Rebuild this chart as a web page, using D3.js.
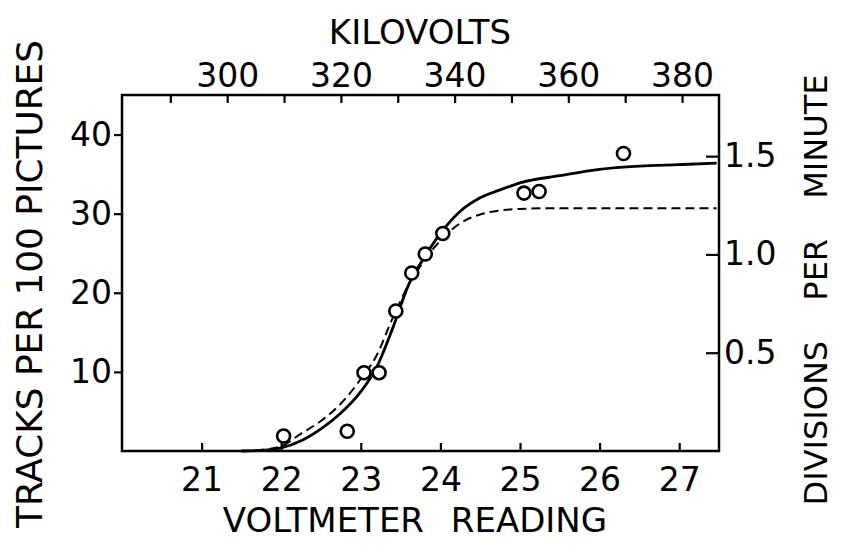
<!DOCTYPE html>
<html>
<head>
<meta charset="utf-8">
<script src="https://cdn.jsdelivr.net/npm/d3@7"></script>
<style>
  body { margin: 0; background: #fff; }
  svg { display: block; font-family: "DejaVu Sans", sans-serif; }
</style>
</head>
<body>
<svg id="plot" width="841" height="547"></svg>
<script>
// measured points (voltmeter reading, tracks per 100 pictures)
const pointX = [22.03, 22.83, 23.04, 23.23, 23.44, 23.64, 23.81, 24.03, 25.05, 25.24, 26.30]
const pointY = [1.9, 2.5, 9.9, 9.9, 17.7, 22.5, 24.9, 27.5, 32.6, 32.8, 37.6]

// solid curve
const solidX = [21.5, 21.8, 22.0, 22.25, 22.5, 22.75, 23.0, 23.2, 23.4, 23.6, 23.8, 24.0, 24.25, 24.5, 24.75, 25.0, 25.5, 26.0, 26.5, 27.0, 27.47]
const solidY = [0, 0.1, 0.4, 1.3, 2.8, 4.8, 7.5, 10.6, 15.5, 21.0, 24.5, 27.5, 30.3, 32.0, 33.0, 33.9, 34.8, 35.6, 36.0, 36.2, 36.4]

// dashed curve
const dashX = [21.5, 21.8, 22.0, 22.25, 22.5, 22.75, 23.0, 23.2, 23.4, 23.6, 23.8, 24.0, 24.25, 24.5, 24.75, 25.0, 25.5, 26.0, 27.47]
const dashY = [0, 0.2, 0.6, 2.2, 3.8, 6.0, 9.1, 12.1, 16.8, 21.0, 24.1, 26.6, 28.8, 29.9, 30.4, 30.6, 30.7, 30.7, 30.7]

const bottomTicks = [21, 22, 23, 24, 25, 26, 27]
const leftTicks = [10, 20, 30, 40]
const rightTicks = [0.5, 1.0, 1.5]
const topTicks = [290, 300, 310, 320, 330, 340, 350, 360, 370, 380]
const topLabels = [300, 320, 340, 360, 380]

const margin = ({ top: 95, right: 122, bottom: 96, left: 122 })
const width = 841
const height = 547

x = d3.scaleLinear()
    .domain([20, 27.5])
    .range([margin.left, width - margin.right])

kv = d3.scaleLinear()
    .domain([281.5, 386.5])
    .range([margin.left, width - margin.right])

y = d3.scaleLinear()
    .domain([0, 45])
    .range([height - margin.bottom, margin.top])

yRight = d3.scaleLinear()
    .domain([0, 1.811])
    .range([height - margin.bottom, margin.top])

const svg = d3.select("#plot");

svg.append("rect")
    .attr("width", width).attr("height", height).attr("fill", "#fff");

const styleAxis = g => g
    .call(g => g.select(".domain").remove())
    .call(g => g.selectAll(".tick line").attr("stroke", "#000").attr("stroke-width", 2.2))
    .call(g => g.selectAll(".tick text")
        .attr("font-family", "DejaVu Sans, sans-serif")
        .attr("font-size", 33)
        .attr("fill", "#000"))

svg.append("g")
    .attr("transform", `translate(0,${height - margin.bottom})`)
    .call(d3.axisBottom(x).tickValues(bottomTicks).tickSize(-8).tickPadding(17).tickFormat(d3.format("d")))
    .call(styleAxis)

svg.append("g")
    .attr("transform", `translate(0,${margin.top})`)
    .call(d3.axisTop(kv).tickValues(topTicks).tickSize(-8).tickPadding(8)
        .tickFormat(d => topLabels.includes(d) ? d : ""))
    .call(styleAxis)

svg.append("g")
    .attr("transform", `translate(${margin.left},0)`)
    .call(d3.axisLeft(y).tickValues(leftTicks).tickSize(8).tickPadding(2))
    .call(styleAxis)

svg.append("g")
    .attr("transform", `translate(${width - margin.right},0)`)
    .call(d3.axisRight(yRight).tickValues(rightTicks).tickSize(-13).tickPadding(5).tickFormat(d3.format(".1f")))
    .call(styleAxis)

// frame
svg.append("rect")
    .attr("x", margin.left)
    .attr("y", margin.top)
    .attr("width", width - margin.left - margin.right)
    .attr("height", height - margin.top - margin.bottom)
    .attr("fill", "none")
    .attr("stroke", "#000")
    .attr("stroke-width", 2.5)

line = d3.line()
    .x(d => x(d[0]))
    .y(d => y(d[1]))
    .curve(d3.curveMonotoneX)

svg.append("path")
    .datum(dashX.map((v, i) => [v, dashY[i]]))
    .attr("fill", "none")
    .attr("stroke", "#000")
    .attr("stroke-width", 2)
    .attr("stroke-dasharray", "9,5")
    .attr("d", line);

svg.append("path")
    .datum(solidX.map((v, i) => [v, solidY[i]]))
    .attr("fill", "none")
    .attr("stroke", "#000")
    .attr("stroke-width", 2.8)
    .attr("stroke-linejoin", "round")
    .attr("d", line);

svg.append("g")
    .selectAll("circle")
    .data(pointX.map((v, i) => [v, pointY[i]]))
    .join("circle")
    .attr("cx", d => x(d[0]))
    .attr("cy", d => y(d[1]))
    .attr("r", 6.5)
    .attr("fill", "#fff")
    .attr("stroke", "#000")
    .attr("stroke-width", 2.6)

// titles
svg.append("text")
    .attr("x", 420).attr("y", 44)
    .attr("text-anchor", "middle")
    .attr("font-size", 34)
    .text("KILOVOLTS")

svg.append("text")
    .attr("x", 415).attr("y", 532)
    .attr("text-anchor", "middle")
    .attr("font-size", 34)
    .attr("word-spacing", 16)
    .text("VOLTMETER READING")

svg.append("text")
    .attr("transform", "translate(42,284) rotate(-90)")
    .attr("text-anchor", "middle")
    .attr("font-size", 35)
    .attr("textLength", 488)
    .attr("lengthAdjust", "spacingAndGlyphs")
    .text("TRACKS PER 100 PICTURES")

svg.append("text")
    .attr("transform", "translate(827,290) rotate(-90)")
    .attr("text-anchor", "middle")
    .attr("font-size", 32)
    .attr("word-spacing", 30)
    .text("DIVISIONS PER MINUTE")
</script>
</body>
</html>
